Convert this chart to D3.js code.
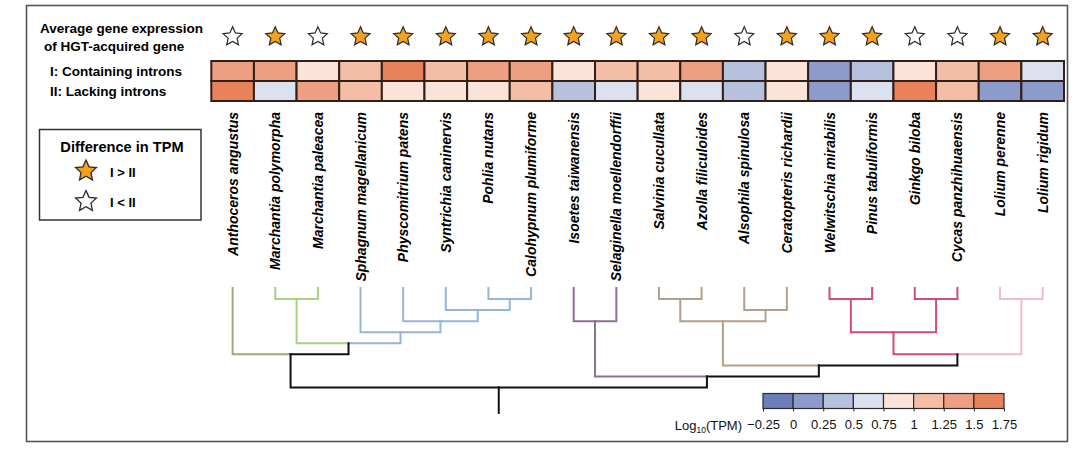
<!DOCTYPE html>
<html><head><meta charset="utf-8">
<script src="https://cdn.jsdelivr.net/npm/d3@7"></script>
<style>body{margin:0;background:#fff}</style>
</head><body>
<svg id="c" width="1080" height="460"></svg>
<script>
// ---------- data ----------
const species = ["Anthoceros angustus","Marchantia polymorpha","Marchantia paleacea","Sphagnum magellanicum",
  "Physcomitrium patens","Syntrichia caninervis","Pohlia nutans","Calohypnum plumiforme","Isoetes taiwanensis",
  "Selaginella moellendorffii","Salvinia cucullata","Azolla filiculoides","Alsophila spinulosa","Ceratopteris richardii",
  "Welwitschia mirabilis","Pinus tabuliformis","Ginkgo biloba","Cycas panzhihuaensis","Lolium perenne","Lolium rigidum"];
const rowLabels = ["I: Containing introns","II: Lacking introns"];
// log10(TPM)
const containingIntrons = [1.35,1.4,0.9,1.15,1.65,1.1,1.4,1.38,0.88,1.1,1.1,1.4,0.4,0.92,0.15,0.4,0.9,1.1,1.4,0.6];
const lackingIntrons    = [1.62,0.6,1.4,1.1,0.9,0.9,0.88,1.1,0.35,0.6,0.88,0.6,0.45,0.85,0.1,0.6,1.62,1.12,0.1,0.1];
// difference in TPM: true = I > II
const iGreaterThanII = [false,true,false,true,true,true,true,true,true,true,true,true,false,true,true,true,false,false,true,true];
const binEdges = [-0.25,0,0.25,0.5,0.75,1,1.25,1.5,1.75];
const tickLabels = ["\u22120.25","0","0.25","0.5","0.75","1","1.25","1.5","1.75"];
const binColors = ["#6b7eb8","#8c9bcb","#b6c1de","#dce1ef","#fbe3d9","#f4bea6","#ee9f81","#e8825b"];
// clade colour for each leaf branch
const leafColors = ["#9aab78","#afcf7f","#afcf7f","#97b5d8","#97b5d8","#97b5d8","#97b5d8","#97b5d8","#8d7090",
  "#8d7090","#b3a08a","#b3a08a","#b3a08a","#b3a08a","#cf4d7e","#cf4d7e","#cf4d7e","#cf4d7e","#efbcc7","#efbcc7"];
// internal nodes: children, level (height), colour of branch to parent, optional position (leaf-index units)
const treeNodes = [
  {id:"march", children:["Marchantia polymorpha","Marchantia paleacea"], level:1, color:"#afcf7f"},
  {id:"pc", children:["Pohlia nutans","Calohypnum plumiforme"], level:1, color:"#97b5d8"},
  {id:"syn", children:["Syntrichia caninervis","pc"], level:2, color:"#97b5d8"},
  {id:"phy", children:["Physcomitrium patens","syn"], level:3, color:"#97b5d8"},
  {id:"moss", children:["Sphagnum magellanicum","phy"], level:4, color:"#97b5d8"},
  {id:"setaph", children:["march","moss"], level:5, color:"#111"},
  {id:"bryo", children:["Anthoceros angustus","setaph"], level:6, color:"#111"},
  {id:"lyco", children:["Isoetes taiwanensis","Selaginella moellendorffii"], level:3, color:"#8d7090"},
  {id:"sa", children:["Salvinia cucullata","Azolla filiculoides"], level:1, color:"#b3a08a"},
  {id:"ac", children:["Alsophila spinulosa","Ceratopteris richardii"], level:2, color:"#b3a08a"},
  {id:"fern", children:["sa","ac"], level:3, color:"#b3a08a"},
  {id:"wp", children:["Welwitschia mirabilis","Pinus tabuliformis"], level:1, color:"#cf4d7e"},
  {id:"gc", children:["Ginkgo biloba","Cycas panzhihuaensis"], level:1, color:"#cf4d7e"},
  {id:"gym", children:["wp","gc"], level:4, color:"#cf4d7e"},
  {id:"lol", children:["Lolium perenne","Lolium rigidum"], level:1, color:"#efbcc7"},
  {id:"seed", children:["gym","lol"], level:6, color:"#111"},
  {id:"euph", children:["fern","seed"], level:7, color:"#111", pos:13.75},
  {id:"trach", children:["lyco","euph"], level:8, color:"#111"},
  {id:"root", children:["bryo","trach"], level:9, color:"#111"}
];
const rootStubLevel = 11.3;

// ---------- drawing ----------
const FONT = "'Liberation Sans', Arial, sans-serif";
const svg = d3.select("#c").style("font-family", FONT);

// outer frame
svg.append("rect").attr("x",26.5).attr("y",5.5).attr("width",1041).attr("height",436)
  .attr("fill","none").attr("stroke","#555").attr("stroke-width",1.6);

const x = d3.scaleBand().domain(species).range([211.3,1064]).padding(0);
const rowY = d3.scaleBand().domain(rowLabels).range([61,101]);
const color = d3.scaleThreshold().domain(binEdges.slice(1,-1)).range(binColors);
const cx = s => x(s) + x.bandwidth()/2;

// header texts
svg.append("text").attr("x",40).attr("y",32.5).attr("font-size",13.5).attr("font-weight","bold").text("Average gene expression");
svg.append("text").attr("x",44).attr("y",51).attr("font-size",13.5).attr("font-weight","bold").text("of HGT-acquired gene");
svg.selectAll("text.rowlab").data(rowLabels).join("text").attr("class","rowlab")
  .attr("x",50).attr("y",d=>rowY(d)+rowY.bandwidth()/2+4.8)
  .attr("font-size",13.5).attr("font-weight","bold").text(d=>d);

// star path
function starPath(R, r){
  const pts=[];
  for(let i=0;i<10;i++){
    const a = -Math.PI/2 + i*Math.PI/5;
    const rad = i%2===0?R:r;
    pts.push([rad*Math.cos(a), rad*Math.sin(a)]);
  }
  return "M"+pts.map(p=>p[0].toFixed(2)+","+p[1].toFixed(2)).join("L")+"Z";
}
const STAR_FILL = "#f4a21e";
svg.selectAll("path.star").data(species).join("path").attr("class","star")
  .attr("d", starPath(10,4.7))
  .attr("transform",d=>`translate(${cx(d)},36.7)`)
  .attr("fill",(d,i)=>iGreaterThanII[i]?STAR_FILL:"#fff")
  .attr("stroke","#2a2a2a").attr("stroke-width",1.2).attr("stroke-linejoin","miter");

// heatmap
const cells = [];
species.forEach((s,i)=>{
  cells.push({s, row:rowLabels[0], v:containingIntrons[i]});
  cells.push({s, row:rowLabels[1], v:lackingIntrons[i]});
});
svg.append("g").selectAll("rect").data(cells).join("rect")
  .attr("x",d=>x(d.s)).attr("y",d=>rowY(d.row))
  .attr("width",x.bandwidth()).attr("height",rowY.bandwidth())
  .attr("fill",d=>color(d.v)).attr("stroke","#30201a").attr("stroke-width",2);

// species labels
svg.selectAll("text.sp").data(species).join("text").attr("class","sp")
  .attr("transform",d=>`translate(${cx(d)},112) rotate(-90)`)
  .attr("dy","0.36em").attr("text-anchor","end")
  .attr("font-size",14).attr("font-weight","bold").attr("font-style","italic")
  .text(d=>d);

// legend
svg.append("rect").attr("x",39.5).attr("y",129.5).attr("width",161.5).attr("height",90.5)
  .attr("fill","none").attr("stroke","#333").attr("stroke-width",1.5);
svg.append("text").attr("x",122).attr("y",151.5).attr("text-anchor","middle")
  .attr("font-size",14.6).attr("font-weight","bold").text("Difference in TPM");
const legendItems = [{filled:true,label:"I > II"},{filled:false,label:"I < II"}];
const lg = svg.selectAll("g.lg").data(legendItems).join("g").attr("class","lg")
  .attr("transform",(d,i)=>`translate(0,${i*30.5})`);
lg.append("path").attr("d",starPath(11,5.2)).attr("transform","translate(86,171)")
  .attr("fill",d=>d.filled?STAR_FILL:"#fff").attr("stroke","#2a2a2a").attr("stroke-width",1.3);
lg.append("text").attr("x",110).attr("y",176.5).attr("font-size",13).attr("font-weight","bold").text(d=>d.label);

// tree
const idx = d3.scaleLinear().domain([0,species.length-1]).range([cx(species[0]), cx(species[species.length-1])]);
const ty = d3.scaleLinear().domain([0,9]).range([288,387.5]);
const nodeMap = new Map();
species.forEach((s,i)=>nodeMap.set(s,{pos:i, level:0, color:leafColors[i]}));
treeNodes.forEach(n=>{
  const ch = n.children.map(c=>nodeMap.get(c));
  const pos = n.pos!==undefined ? n.pos : d3.mean(ch,c=>c.pos);
  nodeMap.set(n.id,{pos, level:n.level, color:n.color, children:ch});
});
const segs = [];
treeNodes.forEach(n=>{
  const node = nodeMap.get(n.id);
  node.children.forEach(c=>{
    segs.push({d:`M${idx(c.pos)},${ty(c.level)}V${ty(node.level)}H${idx(node.pos)}`, color:c.color});
  });
});
const root = nodeMap.get("root");
segs.push({d:`M${idx(root.pos)},${ty(root.level)}V${ty(rootStubLevel)}`, color:root.color});
// draw coloured first, black last
segs.sort((a,b)=>(a.color==="#111")-(b.color==="#111"));
svg.append("g").selectAll("path").data(segs).join("path")
  .attr("d",d=>d.d).attr("fill","none").attr("stroke",d=>d.color)
  .attr("stroke-width",2).attr("stroke-linejoin","miter").attr("stroke-linecap","square");

// colour bar
const cb = d3.scaleLinear().domain([binEdges[0],binEdges[binEdges.length-1]]).range([763,1004]);
const cbY = 393.5, cbH = 15;
const bins = d3.range(binColors.length).map(i=>({a:binEdges[i], b:binEdges[i+1], c:binColors[i]}));
svg.append("g").selectAll("rect").data(bins).join("rect")
  .attr("x",d=>cb(d.a)).attr("y",cbY).attr("width",d=>cb(d.b)-cb(d.a)).attr("height",cbH)
  .attr("fill",d=>d.c).attr("stroke","#2a2a2a").attr("stroke-width",1.2);
const axis = d3.axisBottom(cb).tickValues(binEdges).tickFormat((d,i)=>tickLabels[i]).tickSize(3).tickPadding(8);
const ag = svg.append("g").attr("transform",`translate(0,${cbY+cbH})`).call(axis);
ag.select(".domain").remove();
ag.selectAll("line").attr("stroke","#2a2a2a");
ag.selectAll("text").attr("font-size",13).attr("font-family",FONT).attr("fill","#111");
const lt = svg.append("text").attr("x",742).attr("y",429.5).attr("text-anchor","end").attr("font-size",13).attr("fill","#111");
lt.append("tspan").text("Log");
lt.append("tspan").attr("font-size",8.5).attr("dy",3).text("10");
lt.append("tspan").attr("dy",-3).text("(TPM)");
</script>
</body></html>
